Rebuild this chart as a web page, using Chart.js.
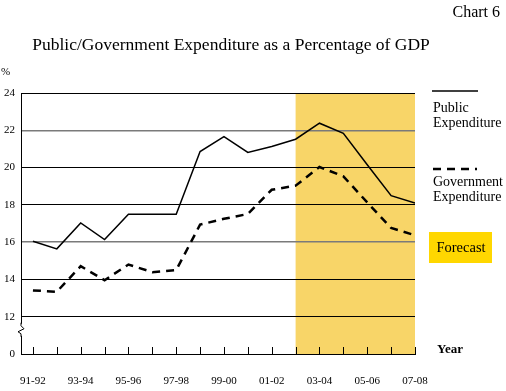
<!DOCTYPE html>
<html>
<head>
<meta charset="utf-8">
<script src="https://cdn.jsdelivr.net/npm/chart.js@4"></script>
<style>
  html, body { margin: 0; padding: 0; background: #fff; }
  #wrap { position: relative; width: 506px; height: 391px; }
</style>
</head>
<body>
<div id="wrap"><canvas id="chart" width="506" height="391"></canvas></div>
<script>
/* ---------- Data ---------- */
const years = ["91-92", "92-93", "93-94", "94-95", "95-96", "96-97", "97-98", "98-99", "99-00",
  "00-01", "01-02", "02-03", "03-04", "04-05", "05-06", "06-07", "07-08"];
const publicExp = [16.05, 15.64, 17.03, 16.14, 17.5, 17.5, 17.5, 20.86, 21.66,
  20.81, 21.13, 21.52, 22.38, 21.84, 20.15, 18.49, 18.1];
const governmentExp = [13.41, 13.34, 14.71, 13.96, 14.8, 14.39, 14.5, 16.94, 17.25,
  17.51, 18.81, 19.03, 20.03, 19.53, 18.13, 16.76, 16.37];
const yTicks = [10, 12, 14, 16, 18, 20, 22, 24]; // 10 is drawn as "0" (broken axis)
const forecastFrom = 11;   // index of 02-03, shading starts here
const serif = "'Liberation Serif', 'Times New Roman', serif";

/* ---------- Plugins ---------- */
const forecastShade = {
  id: "forecastShade",
  beforeDraw(chart) {
    const { ctx, chartArea, scales } = chart;
    const x0 = scales.x.getPixelForValue(forecastFrom);
    ctx.save();
    ctx.fillStyle = "#f8d568";
    ctx.fillRect(x0, chartArea.top, chartArea.right - x0, chartArea.bottom - chartArea.top);
    ctx.restore();
  }
};

const extras = {
  id: "extras",
  afterDraw(chart) {
    const { ctx, chartArea, scales } = chart;
    ctx.save();

    // x tick marks pointing up into the plot
    ctx.strokeStyle = "#000";
    ctx.lineWidth = 1;
    years.forEach((_, i) => {
      const x = Math.round(scales.x.getPixelForValue(i)) + 0.5;
      ctx.beginPath();
      ctx.moveTo(x, chartArea.bottom);
      ctx.lineTo(x, chartArea.bottom - 7);
      ctx.stroke();
    });

    // axis break mark
    const bx = chartArea.left;
    const by = scales.y.getPixelForValue(11.3);
    ctx.fillStyle = "#fff";
    ctx.fillRect(bx - 3, by - 6, 6, 12);
    ctx.beginPath();
    ctx.moveTo(bx, by - 7);
    ctx.lineTo(bx, by - 4);
    ctx.lineTo(bx + 3, by - 1);
    ctx.lineTo(bx - 3, by + 2);
    ctx.lineTo(bx, by + 4);
    ctx.lineTo(bx, by + 7);
    ctx.stroke();

    // titles
    ctx.fillStyle = "#000";
    ctx.textBaseline = "middle";
    ctx.textAlign = "right";
    ctx.font = "16px " + serif;
    ctx.fillText("Chart 6", 500, 13);
    ctx.textAlign = "center";
    ctx.font = "17.5px " + serif;
    ctx.fillText("Public/Government Expenditure as a Percentage of GDP", 231, 45);
    ctx.textAlign = "left";
    ctx.font = "11px " + serif;
    ctx.fillText("%", 1, 72);
    ctx.font = "bold 13px " + serif;
    ctx.fillText("Year", 437, 350);

    // legend
    ctx.lineWidth = 1.5;
    ctx.beginPath();
    ctx.moveTo(432, 91);
    ctx.lineTo(478, 91);
    ctx.stroke();
    ctx.font = "14px " + serif;
    ctx.fillText("Public", 433, 108);
    ctx.fillText("Expenditure", 433, 123);

    ctx.lineWidth = 2.5;
    ctx.setLineDash([8, 6]);
    ctx.beginPath();
    ctx.moveTo(433, 169);
    ctx.lineTo(477, 169);
    ctx.stroke();
    ctx.setLineDash([]);
    ctx.fillText("Government", 433, 182);
    ctx.fillText("Expenditure", 433, 197);

    ctx.fillStyle = "#ffd700";
    ctx.fillRect(429, 232, 63, 31);
    ctx.fillStyle = "#000";
    ctx.textAlign = "center";
    ctx.font = "14.5px " + serif;
    ctx.fillText("Forecast", 461, 248);

    ctx.restore();
  }
};

/* ---------- Chart ---------- */
new Chart(document.getElementById("chart"), {
  type: "line",
  data: {
    datasets: [
      {
        label: "Public Expenditure",
        data: publicExp.map((v, i) => ({ x: i, y: v })),
        borderColor: "#000",
        borderWidth: 1.5,
        pointRadius: 0,
        tension: 0
      },
      {
        label: "Government Expenditure",
        data: governmentExp.map((v, i) => ({ x: i, y: v })),
        borderColor: "#000",
        borderWidth: 2.5,
        borderDash: [8, 6],
        pointRadius: 0,
        tension: 0
      }
    ]
  },
  options: {
    responsive: false,
    animation: false,
    layout: { padding: { top: 93, right: 91, left: 0, bottom: 0 } },
    plugins: { legend: { display: false }, tooltip: { enabled: false } },
    scales: {
      x: {
        type: "linear",
        min: -0.5,
        max: 16,
        afterBuildTicks: (scale) => { scale.ticks = years.map((_, i) => ({ value: i })); },
        afterFit: (scale) => { scale.height = 37; },
        grid: { display: false },
        border: { display: true, color: "#000", width: 1 },
        ticks: {
          autoSkip: false,
          maxRotation: 0,
          padding: 13,
          color: "#000",
          font: { family: serif, size: 11 },
          callback: (v) => (v % 2 === 0 ? years[v] : "")
        }
      },
      y: {
        min: 10,
        max: 24,
        afterBuildTicks: (scale) => { scale.ticks = yTicks.map((v) => ({ value: v })); },
        afterFit: (scale) => { scale.width = 21; },
        grid: {
          drawTicks: false,
          color: (c) => (c.tick && (c.tick.value === 22 || c.tick.value === 16) ? "#7a7a7a" : "#000"),
          lineWidth: (c) => (c.tick && (c.tick.value === 22 || c.tick.value === 16) ? 1.5 : 1)
        },
        border: { display: true, color: "#000", width: 1 },
        ticks: {
          padding: 6,
          color: "#000",
          font: { family: serif, size: 11 },
          callback: (v) => (v === 10 ? "0" : String(v))
        }
      }
    }
  },
  plugins: [forecastShade, extras]
});
</script>
</body>
</html>
